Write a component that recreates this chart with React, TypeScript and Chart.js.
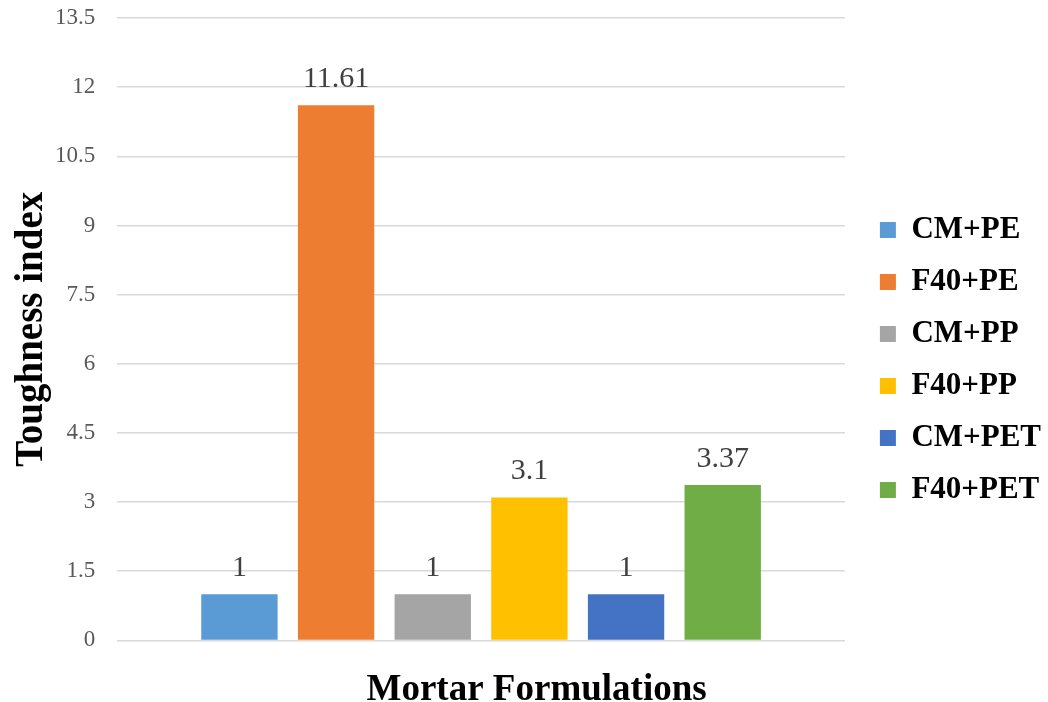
import React, { useEffect, useRef } from "react";
import { Chart, registerables } from "chart.js";

Chart.register(...registerables);

const categories = [""];
const seriesNames = ["CM+PE", "F40+PE", "CM+PP", "F40+PP", "CM+PET", "F40+PET"];
const seriesValues = [1, 11.61, 1, 3.1, 1, 3.37];
const seriesLabels = ["1", "11.61", "1", "3.1", "1", "3.37"];
const seriesColors = ["#5B9BD5", "#ED7D31", "#A5A5A5", "#FFC000", "#4472C4", "#70AD47"];
const yMin = 0;
const yMax = 13.5;
const yStep = 1.5;
const xTitle = "\u2003\u2003\u2003Mortar Formulations";
const yTitle = "Toughness index";

const FONT = "'Liberation Serif', 'Times New Roman', serif";

const valueLabelPlugin = {
  id: "valueLabels",
  afterDatasetsDraw(chart: any) {
    const ctx = chart.ctx;
    ctx.save();
    ctx.font = `30px ${FONT}`;
    ctx.fillStyle = "#404040";
    ctx.textAlign = "center";
    ctx.textBaseline = "bottom";
    chart.data.datasets.forEach((ds: any, i: number) => {
      const meta = chart.getDatasetMeta(i);
      meta.data.forEach((bar: any) => {
        ctx.fillText(seriesLabels[i], bar.x, bar.y - 11);
      });
    });
    ctx.restore();
  },
};

export default function App() {
  const canvasRef = useRef<HTMLCanvasElement | null>(null);

  useEffect(() => {
    let chart: Chart | null = null;
    let cancelled = false;
    const fontLoads = (document as any).fonts
      ? Promise.all([
          (document as any).fonts.load(`bold 31px "Liberation Serif"`),
          (document as any).fonts.load(`23px "Liberation Serif"`),
        ]).catch(() => null)
      : Promise.resolve(null);

    fontLoads.then(() => {
      if (cancelled || !canvasRef.current) return;
      chart = new Chart(canvasRef.current, {
        type: "bar",
        data: {
          labels: categories,
          datasets: seriesNames.map((name, i) => ({
            label: name,
            data: [seriesValues[i]],
            backgroundColor: seriesColors[i],
            borderWidth: 0,
            categoryPercentage: 0.797,
            barPercentage: 0.79,
          })),
        },
        options: {
          animation: false,
          responsive: true,
          maintainAspectRatio: false,
          layout: { padding: { top: 0, right: -3, left: 12, bottom: -3 } },
          plugins: {
            legend: {
              position: "right",
              align: "center",
              maxWidth: 300,
              title: {
                display: true,
                text: " ",
                font: { size: 7, lineHeight: 1 },
                padding: { top: 8, bottom: 0 },
              },
              labels: {
                font: { family: FONT, size: 31, weight: "bold" },
                color: "#000000",
                boxWidth: 16,
                boxHeight: 16,
                padding: 21,
              },
            },
            tooltip: { enabled: false },
            title: { display: false },
          },
          scales: {
            x: {
              grid: { display: false },
              border: { display: false },
              ticks: { display: false },
              title: {
                display: true,
                text: xTitle,
                font: { family: FONT, size: 37, weight: "bold", lineHeight: 0.8 },
                color: "#000000",
                padding: { top: 27, bottom: 0 },
              },
            },
            y: {
              min: yMin,
              max: yMax,
              border: { display: false },
              grid: { color: "#D9D9D9", lineWidth: 1.5, drawTicks: false },
              ticks: {
                stepSize: yStep,
                font: { family: FONT, size: 23 },
                color: "#595959",
                padding: 22,
              },
              title: {
                display: true,
                text: yTitle,
                font: { family: FONT, size: 39, weight: "bold", lineHeight: 1.0 },
                color: "#000000",
                padding: { top: 0, bottom: 0 },
              },
              afterFit: (scale: any) => {
                scale.width = scale.width - 18;
                scale.paddingTop = 18;
                scale.paddingBottom = 0;
              },
            },
            yRight: {
              position: "right",
              display: true,
              grid: { display: false },
              border: { display: false },
              ticks: { display: false },
              afterFit: (scale: any) => {
                scale.width = 14;
              },
            },
          },
        },
        plugins: [valueLabelPlugin],
      });
    });
    return () => {
      cancelled = true;
      if (chart) chart.destroy();
    };
  }, []);

  return (
    <div style={{ position: "fixed", left: 0, top: 0, width: 1048, height: 702, background: "#fff" }}>
      <canvas ref={canvasRef} />
    </div>
  );
}
